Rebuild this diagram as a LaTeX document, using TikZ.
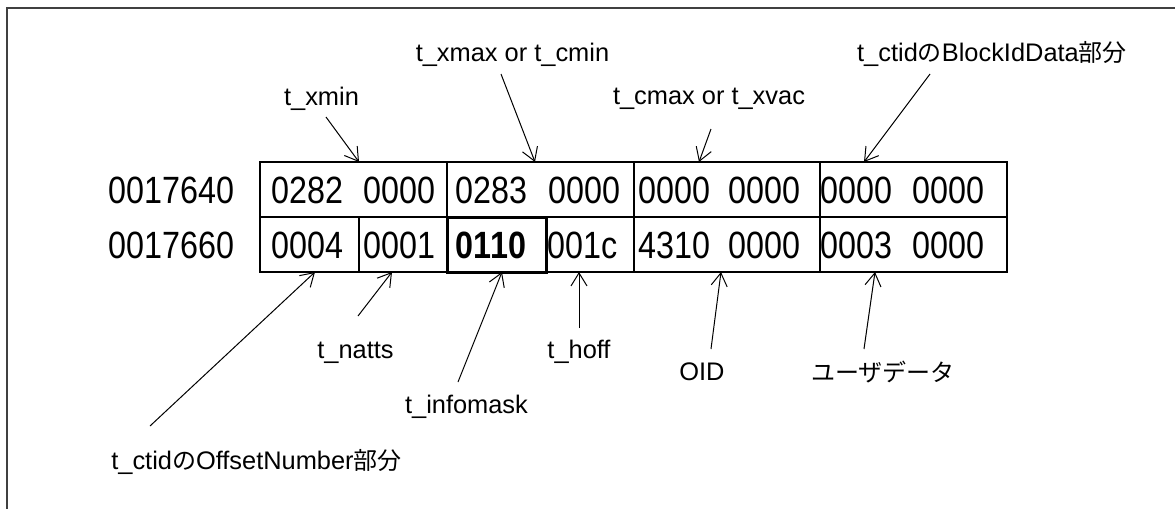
\documentclass[tikz,border=0pt]{standalone}
\usepackage{fontspec}
\setmainfont{Liberation Sans}
\newfontfamily\jpfont{Noto Sans CJK JP}
\newfontfamily\hexfont[FakeStretch=0.85]{Liberation Sans}
\newcommand\jp[1]{{\jpfont\fontsize{12}{14}\selectfont #1}}
\usetikzlibrary{arrows.meta}

\begin{document}
\begin{tikzpicture}[x=0.5pt, y=-0.5pt,
    lbl/.style={inner sep=0pt, anchor=base, font=\fontsize{12.7}{15}\selectfont},
    hex/.style={inner sep=0pt, anchor=base west, font=\hexfont\fontsize{19}{21}\selectfont},
    ptr/.style={-{Straight Barb[length=6.5pt,width=8pt]}, line width=0.5pt},
    cell/.style={line width=0.6pt}]
    % Canvas and frame
    \useasboundingbox (0,0) rectangle (1175,509);
    \draw[black!75, line width=1pt] (7,509) -- (7,8) -- (1175,8);

    % Table grid
    \draw[cell] (260,162) rectangle (1007,272);
    \draw[cell] (260,217) -- (1007,217);
    \foreach \x in {447,634,820}
        \draw[cell] (\x,162) -- (\x,217);
    \foreach \x in {359,634,820}
        \draw[cell] (\x,217) -- (\x,272);
    \draw[line width=1.5pt] (447,217) rectangle (546,272);

    % Addresses and dump words
    \node[hex] (addrA) at (108,203) {0017640};
    \node[hex] (addrB) at (108,258) {0017660};
    \foreach \x/\v [count=\i] in {273/0282,365/0000,457/0283,550/0000,640/0000,730/0000,822/0000,914/0000}
        \node[hex] (wa\i) at (\x-1.5,203) {\v};
    \foreach \x/\v [count=\i] in {273/0004,365/0001,457/{\bfseries 0110},549/001c,640/4310,730/0000,822/0003,914/0000}
        \node[hex] (wb\i) at (\x-1.5,258) {\v};

    % Field names
    \node[lbl] (lxmin)   at (321.5,105) {t\_xmin};
    \node[lbl] (lxmax)   at (512.5,61)  {t\_xmax or t\_cmin};
    \node[lbl] (lcmax)   at (709,104)   {t\_cmax or t\_xvac};
    \node[lbl] (lblock)  at (992,61)    {t\_ctid\jp{の}BlockIdData\jp{部分}};
    \node[lbl] (loffset) at (256.5,469) {t\_ctid\jp{の}OffsetNumber\jp{部分}};
    \node[lbl] (lnatts)  at (355.5,358) {t\_natts};
    \node[lbl] (linfo)   at (466.5,413) {t\_infomask};
    \node[lbl] (lhoff)   at (579,358)   {t\_hoff};
    \node[lbl] (loid)    at (702,380)   {OID};
    \node[lbl] (luser)   at (883,381)   {\jp{ユーザデータ}};

    % Arrow tips on the table edges
    \coordinate (txmin)   at (359,162);
    \coordinate (txmax)   at (535,162);
    \coordinate (tcmax)   at (699,162);
    \coordinate (tblock)  at (864,162);
    \coordinate (toffset) at (315,272);
    \coordinate (tnatts)  at (392,272);
    \coordinate (tinfo)   at (502,272);
    \coordinate (thoff)   at (579,272);
    \coordinate (toid)    at (721,272);
    \coordinate (tuser)   at (875,272);

    % Pointers
    \draw[ptr] ([shift={(4.5,12)}]lxmin.base) -- (txmin);
    \draw[ptr] ([shift={(-11.5,13)}]lxmax.base) -- (txmax);
    \draw[ptr] ([shift={(2,25)}]lcmax.base) -- (tcmax);
    \draw[ptr] ([shift={(-62,13)}]lblock.base) -- (tblock);
    \draw[ptr] ([shift={(-106.5,-43)}]loffset.base) -- (toffset);
    \draw[ptr] ([shift={(2.5,-42)}]lnatts.base) -- (tnatts);
    \draw[ptr] ([shift={(-8.5,-31)}]linfo.base) -- (tinfo);
    \draw[ptr] ([shift={(0,-30)}]lhoff.base) -- (thoff);
    \draw[ptr] ([shift={(9,-31)}]loid.base) -- (toid);
    \draw[ptr] ([shift={(-19,-32)}]luser.base) -- (tuser);
\end{tikzpicture}
\end{document}
